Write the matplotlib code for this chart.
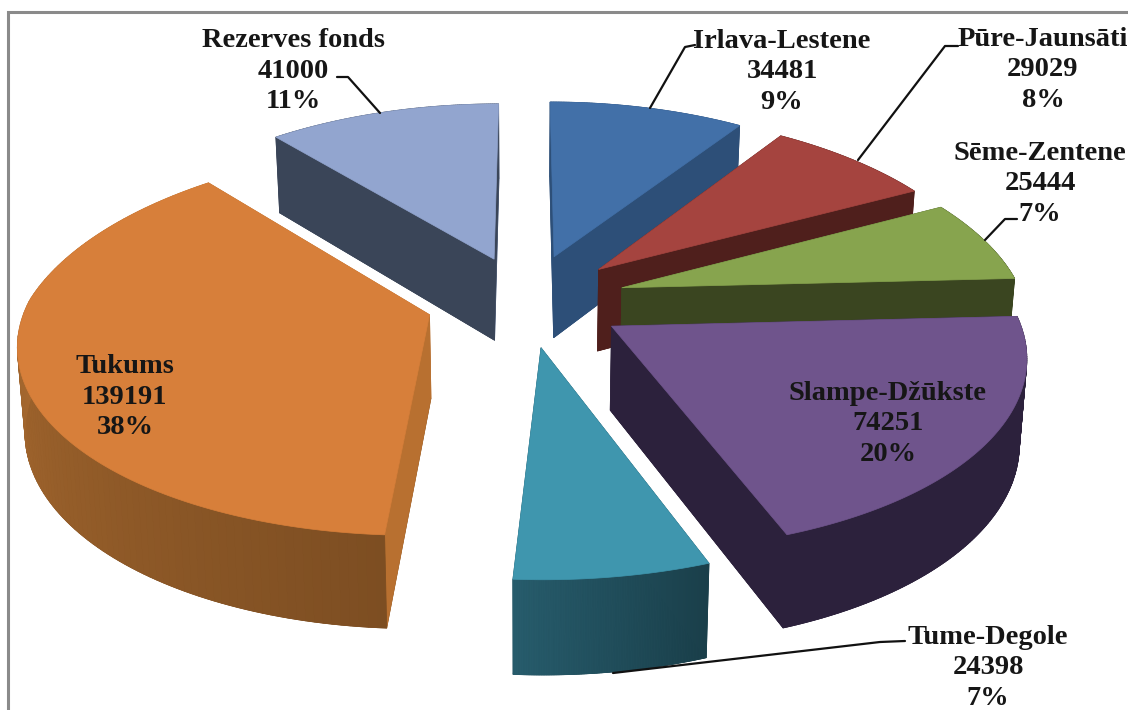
import numpy as np
import matplotlib
matplotlib.use("Agg")
import matplotlib.pyplot as plt
from matplotlib.patches import Polygon
from matplotlib.colors import to_rgb

# ---- data ----
names = ["Irlava-Lestene", "Pūre-Jaunsāti", "Sēme-Zentene", "Slampe-Džūkste",
         "Tume-Degole", "Tukums", "Rezerves fonds"]
values = [34481, 29029, 25444, 74251, 24398, 139191, 41000]
percents = [9, 8, 7, 20, 7, 38, 11]

# ---- styles ----
top_colors = ["#4270a8", "#a5443f", "#87a44e", "#6f548c", "#3f96ae", "#d77f3a", "#92a5cf"]
wall_start = ["#2d4f78", "#4f1f1c", "#3a4520", "#2c213c", "#1a3f4a", "#7d4e22", "#3a4558"]
wall_end = ["#2d4f78", "#4f1f1c", "#3a4520", "#2c213c", "#275c6c", "#bd7736", "#3a4558"]
cut_colors = ["#2d4f78", "#4f1f1c", "#3a4520", "#2c213c", "#1f4a57", "#b87030", "#3a4558"]
far_colors = ["#2d4f78", "#4f1f1c", "#3a4520", "#2c213c", "#1f4a57", "#b87030", "#92a5cf"]
draw_order = [6, 0, 1, 2, 3, 5, 4]
explode = [0.25, 0.25, 0.25, 0.25, 0.25, 0.25, 0.24]
label_xy = [(782, 72), (1043, 70), (1040, 184), (888, 424), (988, 668), (125, 397), (293, 71)]
leaders = [[(650, 108), (685, 47), (695, 45)],
           [(858, 160), (945, 46), (958, 46)],
           [(985, 240), (1005, 219), (1017, 219)],
           [],
           [(613, 673), (880, 642), (905, 641)],
           [],
           [(380, 113), (348, 77), (337, 77)]]

# projection of the tilted pie plane on the picture
CX, CY, RX, RY, K, KX = 526, 300, 402, 186.5, 0.135, 0.035


def project(u, v):
    w = 1 + K * v
    wx = w + KX * np.maximum(v, 0)
    return CX + RX * u / wx, CY - RY * v / w


def drop(x, y):
    return CX + 0.985 * (x - CX), y + 81 + 0.044 * (y - 257)


fig = plt.figure(figsize=(11.28, 7.10), dpi=100)
ax = fig.add_axes([0, 0, 1, 1])
ax.set_xlim(0, 1128)
ax.set_ylim(710, 0)
ax.axis("off")

total = sum(values)
edges = np.concatenate([[0], np.cumsum(values)]) / total * 2 * np.pi

z = 2
for i in draw_order:
    a0, a1 = edges[i], edges[i + 1]
    mid = (a0 + a1) / 2
    ou, ov = explode[i] * np.sin(mid), explode[i] * np.cos(mid)
    th = np.linspace(a0, a1, 120)
    ax_, ay_ = project(ou, ov)
    arc_x, arc_y = project(ou + np.sin(th), ov + np.cos(th))
    top = np.column_stack([np.r_[ax_, arc_x], np.r_[ay_, arc_y]])
    bx, by = drop(top[:, 0], top[:, 1])
    bot = np.column_stack([bx, by])
    wall = to_rgb(wall_start[i])
    wall2 = to_rgb(wall_end[i])
    # cut at the far edge, bottom face, cut at the first edge
    q = np.array([top[0], top[-1], bot[-1], bot[0]])
    ax.add_patch(Polygon(q, closed=True, fc=far_colors[i], ec=far_colors[i], lw=0.5, zorder=z))
    ax.add_patch(Polygon(bot, closed=True, fc=wall, ec=wall, lw=0.5, zorder=z))
    q = np.array([top[0], top[1], bot[1], bot[0]])
    ax.add_patch(Polygon(q, closed=True, fc=cut_colors[i], ec=cut_colors[i], lw=0.5, zorder=z))
    # outer wall strips
    n = len(arc_x)
    for j in range(n - 1):
        t = j / (n - 2)
        c = tuple(np.array(wall) * (1 - t) + np.array(wall2) * t)
        q = np.array([top[j + 1], top[j + 2], bot[j + 2], bot[j + 1]])
        ax.add_patch(Polygon(q, closed=True, fc=c, ec=c, lw=0.6, zorder=z))
    # top
    ax.add_patch(Polygon(top, closed=True, fc=top_colors[i], ec=top_colors[i], lw=0.5, zorder=z))
    z += 1

for pts in leaders:
    if pts:
        xs, ys = zip(*pts)
        ax.plot(xs, ys, color="#111111", lw=1.6, zorder=30, solid_capstyle="round")

for name, val, pct, (x, y) in zip(names, values, percents, label_xy):
    ax.text(x, y, f"{name}\n{val}\n{pct}%", ha="center", va="center", multialignment="center",
            family="Liberation Serif", weight="bold", fontsize=20.5, color="#161616",
            linespacing=1.30, zorder=40)

# picture frame
ax.plot([8, 8, 1128], [710, 12, 12], color="#8a8a8a", lw=2.2, zorder=50, solid_joinstyle="miter")

fig.savefig("out.png", dpi=100)
